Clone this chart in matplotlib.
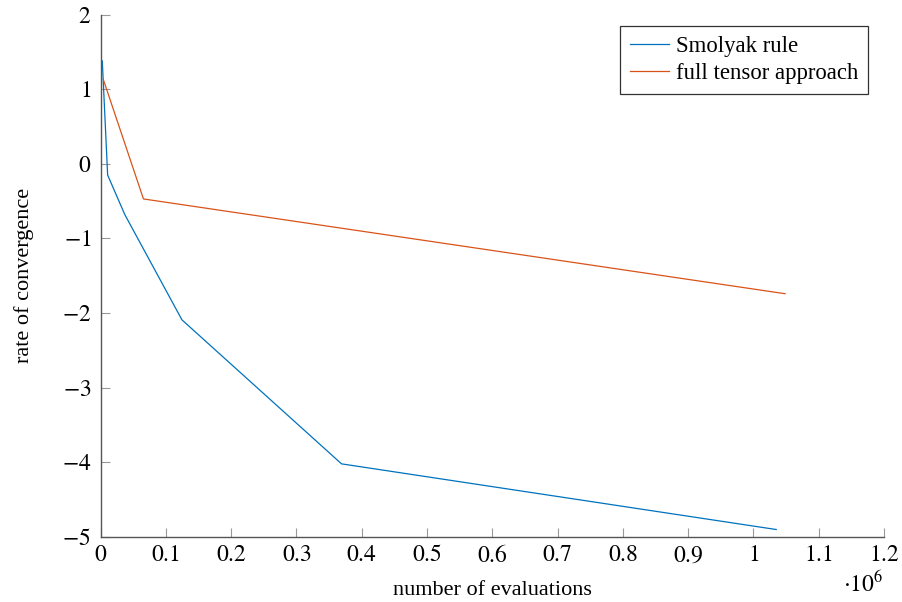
import matplotlib
matplotlib.use('Agg')
import matplotlib.pyplot as plt

# 数据：评估次数与收敛率
smolyak_evals = [2500, 10700, 37000, 124500, 369000, 1035000]
smolyak_rate = [1.38, -0.15, -0.68, -2.09, -4.02, -4.90]
tensor_evals = [4096, 65536, 1048576]
tensor_rate = [1.13, -0.47, -1.74]

xticks = [0, 0.1, 0.2, 0.3, 0.4, 0.5, 0.6, 0.7, 0.8, 0.9, 1, 1.1, 1.2]
xtick_labels = ['0', '0.1', '0.2', '0.3', '0.4', '0.5', '0.6', '0.7', '0.8', '0.9', '1', '1.1', '1.2']
yticks = [-5, -4, -3, -2, -1, 0, 1, 2]
ytick_labels = ['-5', '-4', '-3', '-2', '-1', '0', '1', '2']

plt.rcParams['font.family'] = ['Liberation Serif', 'DejaVu Serif']
plt.rcParams['mathtext.fontset'] = 'stix'
plt.rcParams['font.size'] = 16

fig = plt.figure(figsize=(9.02, 6.02), dpi=100)
ax = fig.add_axes([0.1116, 0.108, 0.8684, 0.8677])

scale = 1e6
ax.plot([v / scale for v in smolyak_evals], smolyak_rate, color='#0072BD', lw=0.9, label='Smolyak rule')
ax.plot([v / scale for v in tensor_evals], tensor_rate, color='#D95319', lw=0.9, label='full tensor approach')

ax.set_xlim(0, 1.2)
ax.set_ylim(-5, 2)
ax.set_xticks(xticks)
ax.set_xticklabels(['$' + t + '$' for t in xtick_labels])
ax.set_yticks(yticks)
ax.set_yticklabels(['$' + t + '$' for t in ytick_labels])

# 只保留左边和下边的坐标轴
ax.spines['top'].set_visible(False)
ax.spines['right'].set_visible(False)
for s in ['left', 'bottom']:
    ax.spines[s].set_color('#555555')
    ax.spines[s].set_linewidth(1.0)
ax.tick_params(direction='in', length=6.5, width=0.8, color='#999999', labelsize=17)
ax.tick_params(axis='y', pad=7)
ax.tick_params(axis='x', pad=6)

ax.set_xlabel('number of evaluations', fontsize=16, labelpad=10)
ax.set_ylabel('rate of convergence', fontsize=16, labelpad=20)
fig.text(0.957, 0.029, r'$\cdot 10^6$', fontsize=17, ha='center', va='center')

leg = ax.legend(loc='upper right', bbox_to_anchor=(0.980, 0.979), borderaxespad=0, fontsize=16.4,
                frameon=True, fancybox=False, framealpha=1, edgecolor='#333333', handlelength=1.7,
                borderpad=0.45, labelspacing=0.25, handletextpad=0.3)
leg.get_frame().set_linewidth(0.9)

plt.savefig('out.png', dpi=100)
